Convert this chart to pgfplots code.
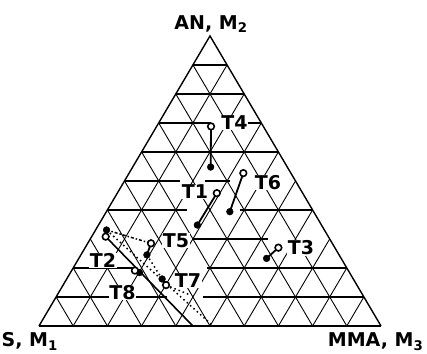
\documentclass[border=0pt]{standalone}
\usepackage{fontspec}
\setmainfont{DejaVu Sans}
\usepackage{pgfplots}
\usepackage{pgfplotstable}
\pgfplotsset{compat=1.18}

% Tie lines: composition of the two coexisting phases (mole fractions of AN and MMA)
\pgfplotstableread{
name anO   mmaO  anF   mmaF
T4   0.688 0.159 0.548 0.228
T6   0.527 0.334 0.394 0.361
T1   0.458 0.291 0.348 0.289
T3   0.270 0.565 0.233 0.549
T5   0.285 0.185 0.245 0.193
T2   0.308 0.041 0.331 0.032
T8   0.191 0.185 0.184 0.202
T7   0.141 0.301 0.162 0.279
}\tielines

\newcommand{\lbl}{\fontsize{19bp}{21bp}\selectfont\bfseries}
\tikzset{
  diag/.style={black, line width=0.9bp},
  hline/.style={black, line width=2.3bp},
}

\begin{document}
\begin{tikzpicture}
\begin{axis}[
  scale only axis, width=342bp, height=290bp,
  xmin=0, xmax=1, ymin=0, ymax=1,
  hide axis, clip=false,
]
% diagonal grid lines (constant MMA and constant S)
\pgfplotsinvokeforeach{1,...,9}{
  \draw[diag] (axis cs:#1/10,0) -- (axis cs:{0.5+#1/20},{1-#1/10});
  \draw[diag] (axis cs:{1-#1/10},0) -- (axis cs:{0.5-#1/20},{1-#1/10});
}
% horizontal grid lines (constant AN), interrupted around the labels
\addplot[hline] coordinates {(0.45,0.9) (0.55,0.9)};
\addplot[hline] coordinates {(0.40,0.8) (0.60,0.8)};
\addplot[hline] coordinates {(0.35,0.7) (0.502,0.7)};
\addplot[hline] coordinates {(0.611,0.7) (0.65,0.7)};
\addplot[hline] coordinates {(0.30,0.6) (0.70,0.6)};
\addplot[hline] coordinates {(0.25,0.5) (0.412,0.5)};
\addplot[hline] coordinates {(0.485,0.5) (0.558,0.5)};
\addplot[hline] coordinates {(0.20,0.4) (0.433,0.4)};
\addplot[hline] coordinates {(0.588,0.4) (0.80,0.4)};
\addplot[hline] coordinates {(0.450,0.3) (0.670,0.3)};
\addplot[hline] coordinates {(0.10,0.2) (0.275,0.2)};
\addplot[hline] coordinates {(0.491,0.2) (0.90,0.2)};
\addplot[hline] coordinates {(0.05,0.1) (0.374,0.1)};
\addplot[hline] coordinates {(0.480,0.1) (0.95,0.1)};
% triangle
\addplot[black, line width=1.4bp] coordinates {(0,0) (0.5,1) (1,0)};
\addplot[black, line width=2.8bp] coordinates {(0,0) (1,0)};

% boundary curves
\addplot[black, line width=1.6bp] table[x expr=\thisrow{mma}+0.5*\thisrow{an}, y=an] {
an    mma
0.308 0.041
0     0.450
};
\addplot[black, line width=1.5bp, dash pattern=on 1.5bp off 3bp] table[x expr=\thisrow{mma}+0.5*\thisrow{an}, y=an] {
an    mma
0.331 0.032
0     0.509
};
\addplot[black, line width=1.5bp, dash dot] table[x expr=\thisrow{mma}+0.5*\thisrow{an}, y=an] {
an    mma
0.331 0.032
0.285 0.185
};
\addplot[black, line width=1.5bp, dash pattern=on 1.5bp off 3bp] table[x expr=\thisrow{mma}+0.5*\thisrow{an}, y=an] {
an    mma
0.245 0.193
0.162 0.279
};
\addplot[black, line width=1.5bp, dash pattern=on 1.5bp off 3bp] table[x expr=\thisrow{mma}+0.5*\thisrow{an}, y=an] {
an    mma
0.141 0.301
0.107 0.388
};

% tie lines
\addplot[black, line width=1.8bp, -, quiver={
    u=\thisrow{mmaF}+0.5*\thisrow{anF}-\thisrow{mmaO}-0.5*\thisrow{anO},
    v=\thisrow{anF}-\thisrow{anO}}]
  table[x expr=\thisrow{mmaO}+0.5*\thisrow{anO}, y=anO] {\tielines};
\addplot[only marks, mark=*, mark size=3.4bp, black]
  table[x expr=\thisrow{mmaF}+0.5*\thisrow{anF}, y=anF] {\tielines};
\addplot[only marks, mark=*, mark size=3.3bp, mark options={fill=white, draw=black, line width=1.6bp}]
  table[x expr=\thisrow{mmaO}+0.5*\thisrow{anO}, y=anO] {\tielines};

% labels
\begin{scope}[every node/.style={font=\lbl, inner sep=0.5bp}]
\node[fill=white] at (axis cs:0.5716,0.700) {T4};
\node[fill=white] at (axis cs:0.6696,0.4948) {T6};
\node[fill=white] at (axis cs:0.4561,0.4621) {T1};
\node[fill=white] at (axis cs:0.7661,0.269) {T3};
\node[fill=white] at (axis cs:0.4006,0.2948) {T5};
\node[fill=white] at (axis cs:0.1871,0.2259) {T2};
\node[fill=white] at (axis cs:0.2442,0.1155) {T8};
\node[fill=white] at (axis cs:0.4357,0.1569) {T7};
\node[anchor=base] at (axis cs:0.5029,1.0224) {AN, M\textsubscript{2}};
\node[anchor=base west] at (axis cs:-0.1111,-0.0724) {S, M\textsubscript{1}};
\node[anchor=base east] at (axis cs:1.1257,-0.0724) {MMA, M\textsubscript{3}};
\end{scope}

\coordinate (bbLL) at (axis cs:-0.114,-0.0966);
\coordinate (bbUR) at (axis cs:1.1345,1.124);
\end{axis}
\pgfresetboundingbox
\path[use as bounding box] (bbLL) rectangle (bbUR);
\end{tikzpicture}
\end{document}
